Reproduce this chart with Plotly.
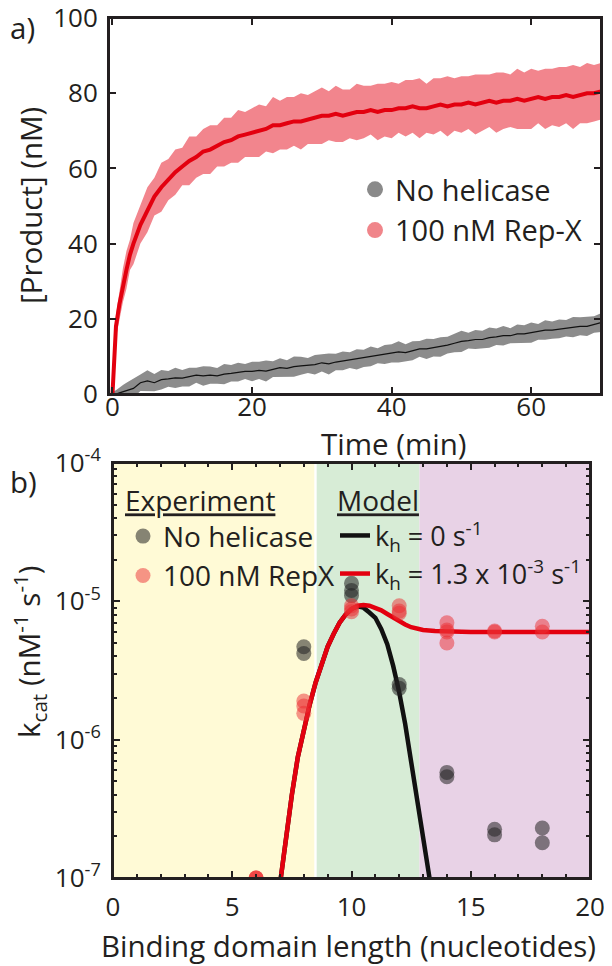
import plotly.graph_objects as go

# ---------------- Panel a data ----------------
t_min = [0, 0.25, 0.5, 1, 1.5, 2, 2.5, 3, 4, 5, 6, 7, 8, 9, 10, 11, 12, 13, 14, 15, 16, 17, 18, 19, 20,
         21, 22, 23, 24, 25, 26, 27, 28, 29, 30, 31, 32, 33, 34, 35, 36, 37, 38, 39, 40,
         41, 42, 43, 44, 45, 46, 47, 48, 49, 50, 51, 52, 53, 54, 55, 56, 57, 58, 59, 60,
         61, 62, 63, 64, 65, 66, 67, 68, 69, 70]

repx_mean = [0, 12, 18, 24, 29, 33, 37, 40, 45, 49, 52.5, 55, 57, 59, 60.5, 62, 63, 64.5, 65, 66, 67, 67.5, 68.5, 69, 69.5,
             70, 70.5, 71.5, 71.5, 72, 72.5, 72.5, 73, 73.5, 74, 74, 74.5, 74, 74.5, 75, 75, 75.5, 75, 75.5, 75.5,
             76, 76, 76.5, 76, 76, 76.5, 77, 76.5, 77, 77, 77.5, 77, 77.5, 78, 77.5, 78, 78, 78.5, 78, 78.5,
             79, 78.5, 79, 79, 79.5, 79, 79.5, 80, 80, 80.5]
repx_err = [0.5, 2, 3, 4, 4.5, 5, 4, 5.5, 5, 6, 5, 6.5, 5.5, 6, 5, 6.5, 5.5, 6, 6.5, 5.5, 6.5, 6, 7, 6, 6.5,
            7, 6, 7.5, 6.5, 7, 6.5, 7.5, 6.5, 7, 7.5, 6.5, 7.5, 7, 6.5, 7.5, 7, 6.5, 7.5, 7, 7.5,
            6.5, 7.5, 7, 8, 6.5, 7.5, 7, 8, 7, 7.5, 7, 8, 7.5, 7, 8, 7.5, 7, 8, 7.5, 8,
            7, 8, 7.5, 8, 7.5, 8.5, 7.5, 8, 7.5, 7.5]

none_mean = [0, 0, 0, 0.3, 0.6, 1, 1.3, 1.5, 3, 3.5, 3, 3.8, 4, 4.3, 4.2, 4.5, 5, 4.8, 5, 4.8, 5.3, 5.5, 5.8, 6, 6,
             6.3, 6.1, 6.6, 7, 6.8, 7.3, 7.5, 7.6, 7.8, 8.3, 8.0, 8.5, 8.8, 9.0, 9.2, 9.5, 10, 10.2, 10.5, 10.8,
             11.2, 11, 11.5, 12, 12, 12.3, 12.5, 13, 13.5, 14, 14.2, 14.5, 14.5, 15, 15.2, 15.5, 15.5, 16, 16, 16.3,
             16.5, 17, 17, 17.3, 17.5, 17.8, 18, 18, 18.5, 19]
none_err = [0.3, 0.8, 1, 1.5, 1.8, 2, 2.2, 2.5, 2.2, 2.8, 2.3, 2.6, 2.1, 2.7, 2.2, 2.5, 2.0, 2.6, 2.3, 2.1, 2.7, 2.2, 2.5, 2.0, 2.6,
            2.3, 2.8, 2.1, 2.5, 2.2, 2.7, 2.4, 2.0, 2.6, 2.3, 2.8, 2.2, 2.5, 2.1, 2.7, 2.3, 2.6, 2.0, 2.5, 2.4,
            2.8, 2.2, 2.5, 2.1, 2.7, 2.3, 2.6, 2.2, 2.4, 2.8, 2.1, 2.5, 2.3, 2.7, 2.2, 2.6, 2.0, 2.5, 2.3, 2.7,
            2.1, 2.6, 2.3, 2.5, 2.2, 2.7, 2.4, 2.6, 2.2, 2.5]

# ---------------- Panel b data ----------------
exp_none_x = [8, 8, 10, 10, 10, 12, 12, 14, 14, 16, 16, 18, 18]
exp_none_y = [4.7e-6, 4.2e-6, 1.35e-5, 1.2e-5, 1.1e-5, 2.5e-6, 2.35e-6, 5.8e-7, 5.4e-7, 2.25e-7, 2.05e-7, 2.3e-7, 1.8e-7]

exp_repx_x = [6, 6, 6, 8, 8, 8, 10, 10, 10, 12, 12, 12, 14, 14, 14, 14, 16, 16, 18, 18]
exp_repx_y = [1.0e-7, 1.0e-7, 1.0e-7, 1.9e-6, 1.75e-6, 1.55e-6, 9.3e-6, 8.8e-6, 8.4e-6, 9.3e-6, 8.5e-6, 8.2e-6,
              7.0e-6, 6.2e-6, 6.0e-6, 5.0e-6, 6.0e-6, 6.1e-6, 6.6e-6, 6.0e-6]

model0_x = [7.0, 7.25, 7.5, 7.75, 8.0, 8.25, 8.5, 8.75, 9.0, 9.25, 9.5, 9.75, 10.0, 10.25, 10.5, 10.75,
            11.0, 11.25, 11.5, 11.75, 12.0, 12.25, 12.5, 12.75, 13.0, 13.25, 13.5, 13.75]
model0_y = [9e-8, 2e-7, 4e-7, 7.5e-7, 1.2e-6, 1.8e-6, 2.6e-6, 3.6e-6, 4.7e-6, 5.8e-6, 7.0e-6, 8.0e-6, 8.8e-6, 9.2e-6,
            9.0e-6, 8.3e-6, 7.6e-6, 6.3e-6, 4.9e-6, 3.4e-6, 2.2e-6, 1.3e-6, 6.8e-7, 3.4e-7, 1.8e-7, 1.05e-7, 6e-8, 3e-8]

model13_x = [7.0, 7.25, 7.5, 7.75, 8.0, 8.25, 8.5, 8.75, 9.0, 9.25, 9.5, 9.75, 10.0, 10.25, 10.5, 10.75,
             11.0, 11.25, 11.5, 11.75, 12.0, 12.25, 12.5, 12.75, 13.0, 13.5, 14, 15, 16, 17, 18, 19, 20]
model13_y = [9e-8, 2e-7, 4e-7, 7.5e-7, 1.2e-6, 1.8e-6, 2.6e-6, 3.6e-6, 4.7e-6, 5.8e-6, 7.0e-6, 8.0e-6, 8.8e-6, 9.3e-6,
             9.4e-6, 9.3e-6, 9.0e-6, 8.6e-6, 8.1e-6, 7.6e-6, 7.1e-6, 6.8e-6, 6.5e-6, 6.3e-6, 6.2e-6, 6.1e-6, 6.05e-6,
             6.0e-6, 6.0e-6, 6.0e-6, 6.0e-6, 6.0e-6, 6.0e-6]

regions = [(0, 8.44, "#fffad6"), (8.54, 12.85, "#d7ecd6"), (12.85, 20, "#e8d2e6")]

FONT = "Open Sans"
FS = 26
TFS = 29.5
INK = "#231f20"

# panel placement (pixels inside the figure)
A_LEFT, A_RIGHT, A_TOP, A_BOTTOM = 101, 593, 10, 386
B_LEFT, B_RIGHT, B_TOP, B_BOTTOM = 105, 582, 455, 870

fig = go.Figure()

# ---- panel a traces ----
repx_up = [m + e for m, e in zip(repx_mean, repx_err)]
repx_lo = [m - e for m, e in zip(repx_mean, repx_err)]
none_up = [m + e for m, e in zip(none_mean, none_err)]
none_lo = [max(m - e, -1) for m, e in zip(none_mean, none_err)]

fig.add_trace(go.Scatter(x=t_min, y=none_up, mode="lines", line=dict(width=0), showlegend=False,
                         hoverinfo="skip", xaxis="x", yaxis="y"))
fig.add_trace(go.Scatter(x=t_min, y=none_lo, mode="lines", line=dict(width=0), fill="tonexty",
                         fillcolor="#8c8c8c", showlegend=False, hoverinfo="skip", xaxis="x", yaxis="y"))
fig.add_trace(go.Scatter(x=t_min, y=none_mean, mode="lines", line=dict(color="#111111", width=1.2),
                         showlegend=False, xaxis="x", yaxis="y"))
fig.add_trace(go.Scatter(x=t_min, y=repx_up, mode="lines", line=dict(width=0), showlegend=False,
                         hoverinfo="skip", xaxis="x", yaxis="y"))
fig.add_trace(go.Scatter(x=t_min, y=repx_lo, mode="lines", line=dict(width=0), fill="tonexty",
                         fillcolor="#f2858d", showlegend=False, hoverinfo="skip", xaxis="x", yaxis="y"))
fig.add_trace(go.Scatter(x=t_min, y=repx_mean, mode="lines", line=dict(color="#e3000f", width=4),
                         showlegend=False, xaxis="x", yaxis="y"))
# legend entries for panel a
fig.add_trace(go.Scatter(x=[None], y=[None], mode="markers", name="No helicase", legendgroup="a1",
                         marker=dict(color="#8a8a8a", size=16), legend="legend", xaxis="x", yaxis="y"))
fig.add_trace(go.Scatter(x=[None], y=[None], mode="markers", name="100 nM Rep-X", legendgroup="a2",
                         marker=dict(color="#f0858a", size=16), legend="legend", xaxis="x", yaxis="y"))

# ---- panel b traces ----
fig.add_trace(go.Scatter(x=model0_x, y=model0_y, mode="lines", name="k<sub>h</sub> = 0 s<sup>-1</sup>",
                         legendgroup="m1", line=dict(color="#111111", width=4.5), legend="legend3",
                         xaxis="x2", yaxis="y2"))
fig.add_trace(go.Scatter(x=model13_x, y=model13_y, mode="lines", legendgroup="m2",
                         name="k<sub>h</sub> = 1.3 x 10<sup>-3</sup> s<sup>-1</sup>",
                         line=dict(color="#e3000f", width=4.5), legend="legend3", xaxis="x2", yaxis="y2"))
fig.add_trace(go.Scatter(x=exp_none_x, y=exp_none_y, mode="markers", name="No helicase", legendgroup="e1",
                         marker=dict(color="rgba(35,35,35,0.55)", size=15), legend="legend2",
                         xaxis="x2", yaxis="y2"))
fig.add_trace(go.Scatter(x=exp_repx_x, y=exp_repx_y, mode="markers", name="100 nM RepX", legendgroup="e2",
                         marker=dict(color="rgba(235,45,50,0.5)", size=15), legend="legend2",
                         xaxis="x2", yaxis="y2"))

for x0, x1, c in regions:
    fig.add_shape(type="rect", xref="x2", yref="y2 domain", x0=x0, x1=x1, y0=0, y1=1,
                  fillcolor=c, line=dict(width=0), layer="below")


def px_y(p):
    return 1 - p / 966.0


def px_x(p):
    return p / 612.0


# panel frames (drawn in paper space so no clipping hides the edges)
for l, r, t, b in [(A_LEFT, A_RIGHT, A_TOP, A_BOTTOM), (B_LEFT, B_RIGHT, B_TOP, B_BOTTOM)]:
    fig.add_shape(type="rect", xref="paper", yref="paper", x0=px_x(l), x1=px_x(r), y0=px_y(b), y1=px_y(t),
                  line=dict(color=INK, width=2), fillcolor="rgba(0,0,0,0)", layer="above")

axis_common = dict(showline=True, linewidth=2, linecolor=INK, mirror="ticks", ticks="inside",
                   tickwidth=1.5, tickcolor=INK, showgrid=False, zeroline=False, automargin=False,
                   ticklabeloverflow="allow", tickfont=dict(family=FONT, size=FS, color=INK))

minor_log = []
for d in [1e-7, 1e-6, 1e-5]:
    for k in range(2, 10):
        minor_log.append(k * d)


def title_ann(text, x, y, angle=0):
    return dict(text=text, x=px_x(x), y=px_y(y), xref="paper", yref="paper", xanchor="center",
                yanchor="middle", textangle=angle, showarrow=False,
                font=dict(family=FONT, size=TFS, color=INK))


fig.update_layout(
    width=612, height=966,
    margin=dict(l=0, r=0, t=0, b=0),
    paper_bgcolor="white", plot_bgcolor="white",
    font=dict(family=FONT, size=FS, color=INK),
    xaxis=dict(domain=[px_x(A_LEFT), px_x(A_RIGHT)], anchor="y", range=[-0.5, 70], tickvals=[0, 20, 40, 60],
               ticklen=7, ticklabelstandoff=-11, **axis_common),
    yaxis=dict(domain=[px_y(A_BOTTOM), px_y(A_TOP)], anchor="x", range=[0, 100],
               tickvals=[0, 20, 40, 60, 80, 100], ticklen=7, ticklabelstandoff=4, **axis_common),
    xaxis2=dict(domain=[px_x(B_LEFT), px_x(B_RIGHT)], anchor="y2", range=[0, 20], tickvals=[0, 5, 10, 15, 20],
                ticklen=7, ticklabelstandoff=5,
                minor=dict(dtick=1, ticks="inside", ticklen=4, tickcolor=INK), **axis_common),
    yaxis2=dict(domain=[px_y(B_BOTTOM), px_y(B_TOP)], anchor="x2", type="log", range=[-7, -4],
                tickvals=[1e-7, 1e-6, 1e-5, 1e-4],
                ticktext=["10<sup>-7</sup>", "10<sup>-6</sup>", "10<sup>-5</sup>", "10<sup>-4</sup>"],
                ticklen=7, ticklabelstandoff=5,
                minor=dict(tickvals=minor_log, ticks="inside", ticklen=4, tickcolor=INK),
                **axis_common),
    legend=dict(x=px_x(347), y=px_y(156), xanchor="left", yanchor="top", bgcolor="rgba(0,0,0,0)",
                font=dict(family=FONT, size=29, color=INK), itemwidth=30, traceorder="normal",
                tracegroupgap=4),
    legend2=dict(x=px_x(115), y=px_y(467), xanchor="left", yanchor="top", bgcolor="rgba(0,0,0,0)",
                 title=dict(text="<u>Experiment</u>", font=dict(family=FONT, size=28, color=INK), side="top"),
                 font=dict(family=FONT, size=28, color=INK), itemwidth=30, traceorder="normal",
                 tracegroupgap=3),
    legend3=dict(x=px_x(327), y=px_y(467), xanchor="left", yanchor="top", bgcolor="rgba(0,0,0,0)",
                 title=dict(text="<u>Model</u>", font=dict(family=FONT, size=28, color=INK), side="top"),
                 font=dict(family=FONT, size=27, color=INK), itemwidth=30, traceorder="normal",
                 tracegroupgap=4),
    annotations=[
        dict(text="a)", x=0.0, y=px_y(19), xref="paper", yref="paper", xanchor="left", yanchor="middle",
             showarrow=False, font=dict(family=FONT, size=TFS, color=INK)),
        dict(text="b)", x=0.0, y=px_y(474), xref="paper", yref="paper", xanchor="left", yanchor="middle",
             showarrow=False, font=dict(family=FONT, size=TFS, color=INK)),
        title_ann("Time (min)", 385, 435),
        title_ann("[Product] (nM)", 22, 198, -90),
        title_ann("Binding domain length (nucleotides)", 340, 937),
        title_ann("k<sub>cat</sub> (nM<sup>-1</sup> s<sup>-1</sup>)", 21, 644, -90),
    ],
)

fig.write_html("out.html")
